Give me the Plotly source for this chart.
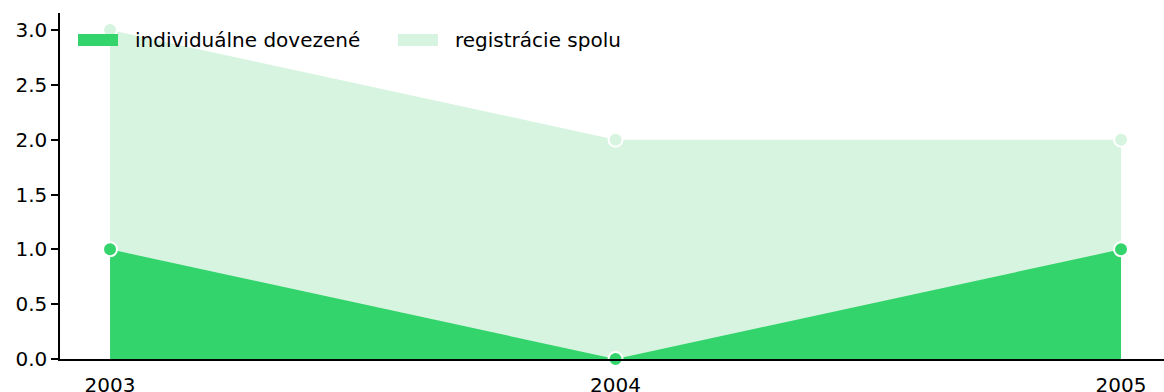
import plotly.graph_objects as go

years = [2003, 2004, 2005]
individual = [1, 0, 1]
total_registrations = [3, 2, 2]
legend_names = ["individuálne dovezené", "registrácie spolu"]

dark_green = "#33d46c"
light_green = "#d7f4e0"
font_family = "DejaVu Sans"

fig = go.Figure()

fig.add_trace(go.Scatter(
    x=years, y=total_registrations, name=legend_names[1],
    mode="lines+markers", fill="tozeroy", fillcolor=light_green,
    line=dict(width=0, color=light_green),
    marker=dict(size=14, color=light_green, line=dict(color="white", width=2)),
    showlegend=False, cliponaxis=False,
))
fig.add_trace(go.Scatter(
    x=years, y=individual, name=legend_names[0],
    mode="lines+markers", fill="tozeroy", fillcolor=dark_green,
    line=dict(width=0, color=dark_green),
    marker=dict(size=14, color=dark_green, line=dict(color="white", width=2)),
    showlegend=False, cliponaxis=False,
))

# Legend: wide filled swatch followed by its label, laid out in pixels from the plot's top-left
legend_items = [(legend_names[0], dark_green, 18), (legend_names[1], light_green, 338)]
for name, color, offset in legend_items:
    fig.add_shape(
        type="rect", xref="paper", yref="paper",
        xsizemode="pixel", ysizemode="pixel", xanchor=0, yanchor=1,
        x0=offset, x1=offset + 40, y0=-33, y1=-21,
        fillcolor=color, line=dict(width=0), layer="above",
    )
    fig.add_annotation(
        text=name, xref="paper", yref="paper", x=0, y=1,
        xanchor="left", yanchor="middle", xshift=offset + 55, yshift=-27,
        showarrow=False, font=dict(family=font_family, size=20, color="black"),
    )

fig.update_layout(
    width=1164, height=392,
    margin=dict(l=60, r=0, t=13, b=33),
    paper_bgcolor="white", plot_bgcolor="white",
    font=dict(family=font_family, size=20, color="black"),
    showlegend=False,
    xaxis=dict(
        range=[2002.901, 2005.085], tickvals=years, ticktext=[str(y) for y in years],
        showgrid=False, zeroline=False, showline=True, linecolor="black", linewidth=1.5,
        ticks="outside", ticklen=7, tickcolor="rgba(0,0,0,0)", automargin=False,
    ),
    yaxis=dict(
        range=[0, 3.155], tickvals=[0, 0.5, 1, 1.5, 2, 2.5, 3],
        ticktext=["0.0", "0.5", "1.0", "1.5", "2.0", "2.5", "3.0"],
        showgrid=False, zeroline=False, showline=True, linecolor="black", linewidth=1.5,
        ticks="outside", ticklen=7, tickwidth=1.5, tickcolor="black", automargin=False,
    ),
)

fig.write_html("out.html")
